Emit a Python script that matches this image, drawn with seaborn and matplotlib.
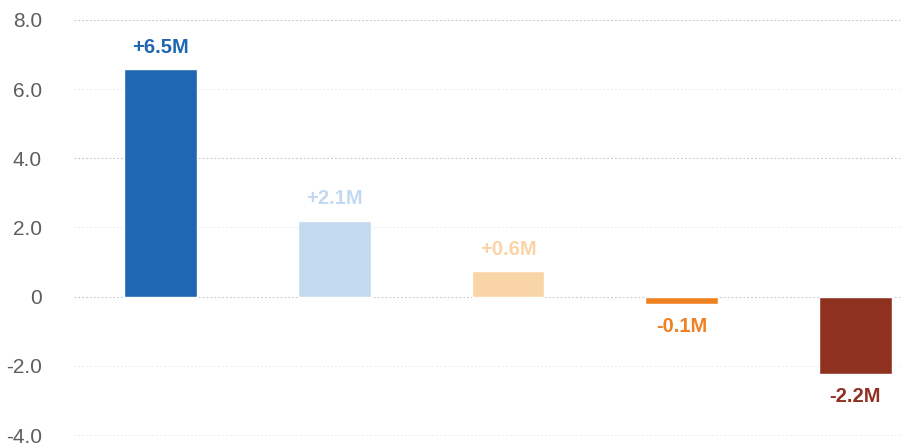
import matplotlib
matplotlib.use("Agg")
import matplotlib.pyplot as plt
import seaborn as sns
import pandas as pd

categories = ["A", "B", "C", "D", "E"]
values = [6.58, 2.2, 0.74, -0.21, -2.24]
labels = ["+6.5M", "+2.1M", "+0.6M", "-0.1M", "-2.2M"]
colors = ["#1f67b0", "#c3d9ef", "#f9d4a6", "#f08122", "#8e3121"]
yticks = [-4, -2, 0, 2, 4, 6, 8]
ytick_labels = ["-4.0", "-2.0", "0", "2.0", "4.0", "6.0", "8.0"]

sns.set_theme(style="white")
plt.rcParams['font.family'] = ['Liberation Sans', 'DejaVu Sans']

df = pd.DataFrame({"cat": categories, "val": values})

fig = plt.figure(figsize=(9.02, 4.48), dpi=100)
ax = fig.add_axes([74/902, 0.0212, 1 - 74/902, 0.9632 - 0.0212])

sns.barplot(data=df, x="cat", y="val", hue="cat", palette=colors, legend=False,
            width=0.42, ax=ax, saturation=1, zorder=3)

ax.set_ylim(-4.1, 8.1)
ax.set_xlim(-0.5, 4.27)
ax.set_yticks(yticks)
ax.set_yticklabels(ytick_labels)
ax.tick_params(axis='y', length=0, pad=23, labelsize=15, labelcolor="#5e5e5e")
ax.set_xticks([])
ax.set_xlabel("")
ax.set_ylabel("")
for s in ax.spines.values():
    s.set_visible(False)
for t in yticks:
    gc = "#c8c8c8" if t in (8, 4, 0) else "#ececec"
    ax.axhline(t, color=gc, linestyle=(0, (1.5, 2)), linewidth=0.8, zorder=1)

for i, (v, lab, c) in enumerate(zip(values, labels, colors)):
    off = 0.63 if v >= 0 else -0.66
    ax.text(i, v + off, lab, ha="center", va="center", fontsize=14.5,
            fontweight="bold", color=c)

fig.savefig("out.png", dpi=100)
